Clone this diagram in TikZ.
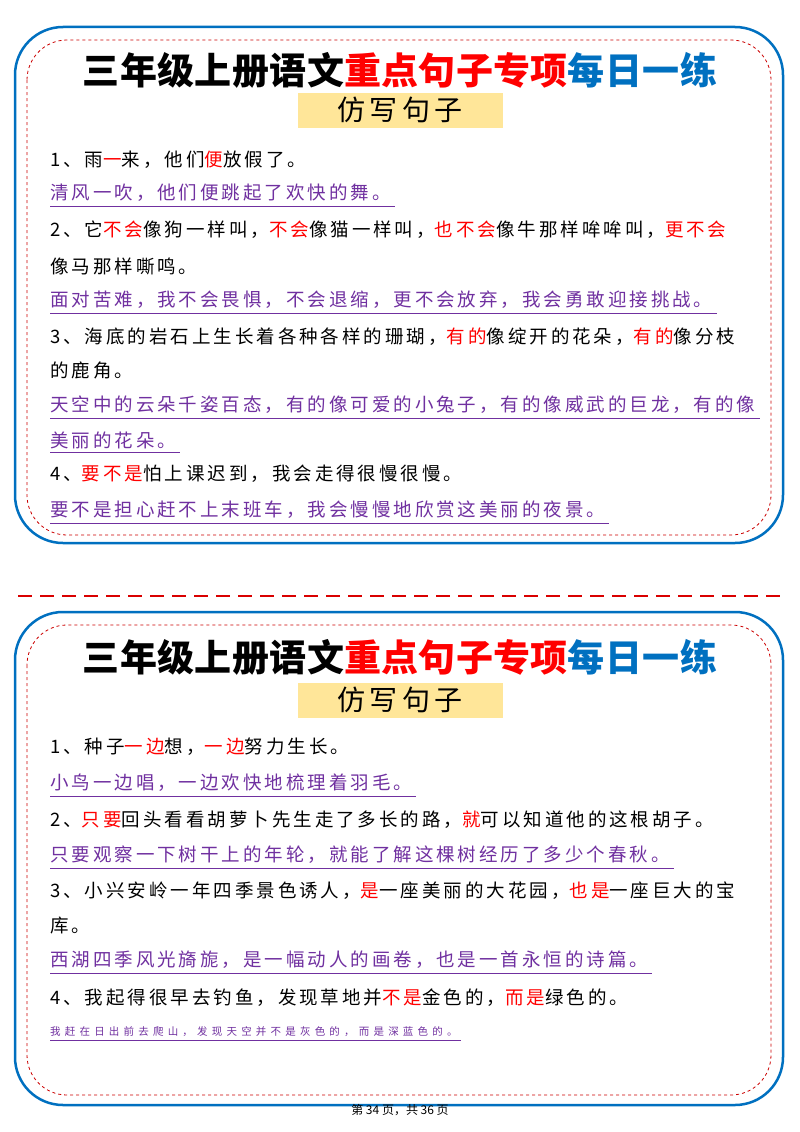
\documentclass[tikz,border=0pt]{standalone}
\usepackage{fontspec}
\setmainfont{Noto Sans CJK SC}
\newfontfamily\bodyf[LetterSpace=16]{Noto Sans CJK SC}
\newfontfamily\smallf[LetterSpace=40]{Noto Sans CJK SC}
\newfontfamily\titf[LetterSpace=1]{Noto Sans CJK SC}
\definecolor{tblue}{RGB}{0,112,192}
\definecolor{pur}{RGB}{112,48,160}
\definecolor{yel}{RGB}{255,230,153}
\newcommand{\R}[1]{\textcolor{red}{#1}}
\tikzset{
 outer/.style={draw=tblue,line width=2.5pt,rounded corners=48pt},
 inner/.style={draw=red!80!black,dashed,line width=0.8pt,rounded corners=40pt},
 txt/.style={anchor=west,inner sep=0pt,font=\fontsize{18.5}{19}\bodyf},
 ptxt/.style={txt,text=pur},
 ul/.style={draw=pur,line width=0.9pt},
 title/.style={font=\fontsize{37}{37}\titf\bfseries,inner sep=0pt},
 ybox/.style={fill=yel,minimum width=205pt,minimum height=35pt,font=\fontsize{28}{28}\bodyf,inner sep=0pt}
}
\newcommand{\pl}[3]{\node[ptxt] (#1) at (50,#2) {#3};
 \draw[ul] ([yshift=-4pt]#1.south west) -- ([yshift=-4pt,xshift=4pt]#1.south east);}
\begin{document}
\begin{tikzpicture}[x=1pt,y=-1pt]
\useasboundingbox (0,0) rectangle (800,1132);
\fill[white] (0,0) rectangle (800,1132);
% top card
\draw[outer] (15,27) rectangle (783,543);
\draw[inner] (27,40) rectangle (771,535);
\node[title] (t1) at (400,70) {三年级上册语文\textcolor{red}{重点句子专项}\textcolor{tblue}{每日一练}};
\node[ybox] (y1) at (400,110) {仿写句子};
\node[txt] (a1) at (50,160) {1、雨\R{一}来，他们\R{便}放假了。};
\pl{b1}{193}{清风一吹，他们便跳起了欢快的舞。}
\node[txt] (a2) at (50,230) {2、它\R{不会}像狗一样叫，\R{不会}像猫一样叫，\R{也不会}像牛那样哞哞叫，\R{更不会}};
\node[txt] (a2b) at (50,266) {像马那样嘶鸣。};
\pl{b2}{300}{面对苦难，我不会畏惧，不会退缩，更不会放弃，我会勇敢迎接挑战。}
\node[txt] (a3) at (50,337) {3、海底的岩石上生长着各种各样的珊瑚，\R{有的}像绽开的花朵，\R{有的}像分枝};
\node[txt] (a3b) at (50,370) {的鹿角。};
\pl{b3}{405}{天空中的云朵千姿百态，有的像可爱的小兔子，有的像威武的巨龙，有的像}
\pl{b3b}{440}{美丽的花朵。}
\node[txt] (a4) at (50,474) {4、\R{要不是}怕上课迟到，我会走得很慢很慢。};
\pl{b4}{510}{要不是担心赶不上末班车，我会慢慢地欣赏这美丽的夜景。}
% separator
\coordinate (s1) at (18,596); \coordinate (s2) at (782,596);
\draw[red!85!black,dashed,dash pattern=on 14pt off 8pt,line width=2pt] (s1) -- (s2);
% bottom card
\draw[outer] (15,612) rectangle (783,1105);
\draw[inner] (27,625) rectangle (771,1095);
\node[title] (t2) at (400,657) {三年级上册语文\textcolor{red}{重点句子专项}\textcolor{tblue}{每日一练}};
\node[ybox] (y2) at (400,700) {仿写句子};
\node[txt] (c1) at (50,747) {1、种子\R{一边}想，\R{一边}努力生长。};
\pl{d1}{783}{小鸟一边唱，一边欢快地梳理着羽毛。}
\node[txt] (c2) at (50,820) {2、\R{只要}回头看看胡萝卜先生走了多长的路，\R{就}可以知道他的这根胡子。};
\pl{d2}{855}{只要观察一下树干上的年轮，就能了解这棵树经历了多少个春秋。}
\node[txt] (c3) at (50,891) {3、小兴安岭一年四季景色诱人，\R{是}一座美丽的大花园，\R{也是}一座巨大的宝};
\node[txt] (c3b) at (50,926) {库。};
\pl{d3}{960}{西湖四季风光旖旎，是一幅动人的画卷，也是一首永恒的诗篇。}
\node[txt] (c4) at (50,998) {4、我起得很早去钓鱼，发现草地并\R{不是}金色的，\R{而是}绿色的。};
\node[ptxt,font=\fontsize{10.5}{11}\smallf] (d4) at (50,1032) {我赶在日出前去爬山，发现天空并不是灰色的，而是深蓝色的。};
\draw[ul,line width=0.6pt] ([yshift=-3pt]d4.south west) -- ([yshift=-3pt,xshift=3pt]d4.south east);
\node[font=\fontsize{12}{12}\selectfont] (pg) at (400,1110) {第 34 页，共 36 页};
\end{tikzpicture}
\end{document}
